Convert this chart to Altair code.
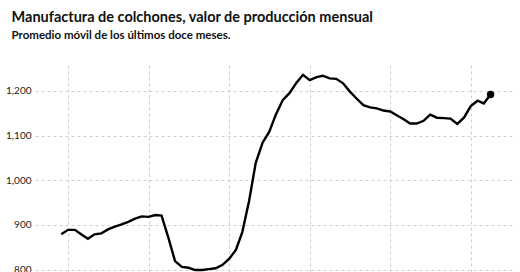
import altair as alt
import pandas as pd

title_text = "Manufactura de colchones, valor de producción mensual"
subtitle_text = "Promedio móvil de los últimos doce meses."

values = [879, 889, 889, 879, 869, 879, 881, 890, 896, 901,
          907, 914, 919, 918, 922, 921, 871, 819, 806, 804,
          799, 799, 801, 803, 810, 824, 844, 884, 954, 1039,
          1084, 1108, 1148, 1180, 1195, 1218, 1236, 1224, 1231, 1234,
          1228, 1227, 1217, 1199, 1183, 1168, 1163, 1161, 1156, 1154,
          1145, 1137, 1127, 1127, 1133, 1147, 1140, 1139, 1138, 1126,
          1140, 1166, 1178, 1172, 1192]
dates = pd.date_range("2017-12-01", periods=len(values), freq="MS")
y_ticks = [800, 900, 1000, 1100, 1200]

df = pd.DataFrame({"fecha": dates, "valor": values})
last = df.tail(1)

FONT = "Lato"

x = alt.X("fecha:T",
          scale=alt.Scale(domain=["2017-08-04", "2023-07-07"]),
          axis=alt.Axis(title=None, grid=True, gridDash=[3, 3], gridColor="#cfcfcf",
                        domain=False, ticks=False, labels=False, tickCount="year"))
y = alt.Y("valor:Q",
          scale=alt.Scale(domain=[761, 1258], nice=False, zero=False),
          axis=alt.Axis(title=None, values=y_ticks, format=",d", grid=True,
                        gridDash=[3, 3], gridColor="#cfcfcf", domain=False, ticks=False,
                        labelFont=FONT, labelFontSize=10, labelColor="#222",
                        labelPadding=4))

line = alt.Chart(df).mark_line(color="black", strokeWidth=2.4).encode(x=x, y=y)
dot = alt.Chart(last).mark_circle(color="black", size=55, opacity=1).encode(x="fecha:T", y="valor:Q")

chart = (line + dot).properties(
    width=477, height=222,
    title=alt.TitleParams(text=title_text, subtitle=subtitle_text, anchor="start",
                          font=FONT, fontSize=14.5, fontWeight="bold", color="#111",
                          subtitleFont=FONT, subtitleFontSize=11.5, subtitleColor="#111",
                          subtitleFontWeight="bold", offset=23, dx=6, subtitlePadding=4),
    padding={"left": 5, "top": 10, "right": 8, "bottom": 5},
).configure_view(stroke=None)

chart.save("out.html", embed_options={"renderer": "svg", "actions": False})
